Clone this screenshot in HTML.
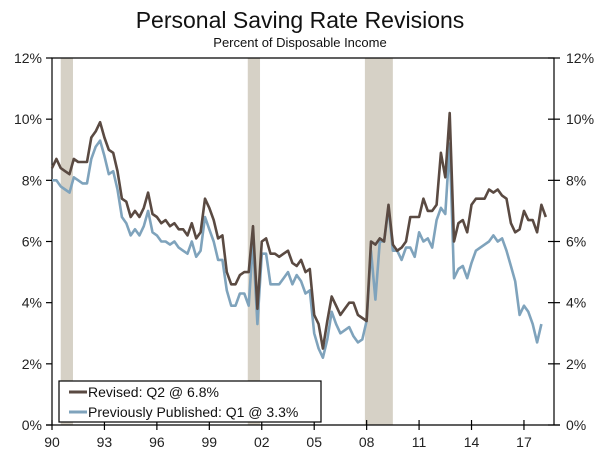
<!DOCTYPE html>
<html><head><meta charset="utf-8"><style>
body{margin:0;background:#fff;}
svg{display:block;font-family:"Liberation Sans",sans-serif;}
</style></head><body>
<svg id="chart" width="600" height="451">
<text x="300" y="28" text-anchor="middle" font-size="23" fill="#111">Personal Saving Rate Revisions</text>
<text x="300" y="47" text-anchor="middle" font-size="13" fill="#111">Percent of Disposable Income</text>
<g id="rec"></g><g id="axes"></g><g id="lines"></g>
<g>
<rect x="59" y="381" width="262" height="41" fill="#fff" stroke="#000" stroke-width="1.2"/>
<line x1="69" y1="392" x2="87" y2="392" stroke="#5a4a42" stroke-width="3"/>
<text x="88" y="397" font-size="14" fill="#111">Revised: Q2 @ 6.8%</text>
<line x1="69" y1="412" x2="87" y2="412" stroke="#7fa3bc" stroke-width="3"/>
<text x="88" y="417" font-size="14" fill="#111">Previously Published: Q1 @ 3.3%</text>
</g>
</svg>
<script>
const yTicks=[0,2,4,6,8,10,12];
const xTickYears=[1990,1993,1996,1999,2002,2005,2008,2011,2014,2017];
const xTickLabels=["90","93","96","99","02","05","08","11","14","17"];
const recessions=[[1990.5,1991.2],[2001.2,2001.9],[2007.9,2009.5]];
const startYear=1990;
const revised=[8.4,8.7,8.4,8.3, 8.2,8.7,8.6,8.6, 8.6,9.4,9.6,9.9, 9.4,9.0,8.9,8.3, 7.4,7.3,6.8,7.0, 6.8,7.1,7.6,6.9, 6.8,6.6,6.7,6.5, 6.6,6.4,6.4,6.2, 6.6,6.1,6.3,7.4, 7.1,6.7,6.1,6.2, 5.0,4.6,4.6,4.9, 5.0,5.0,6.5,3.8, 6.0,6.1,5.6,5.6, 5.5,5.6,5.7,5.3, 5.2,5.4,5.0,5.1, 3.6,3.3,2.5,3.4, 4.2,3.9,3.6,3.8, 4.0,4.0,3.6,3.5, 3.4,6.0,5.9,6.1, 6.0,7.2,5.9,5.7, 5.8,6.0,6.8,6.8, 6.8,7.4,7.0,7.0, 7.2,8.9,8.1,10.2, 6.0,6.6,6.7,6.3, 7.2,7.4,7.4,7.4, 7.7,7.6,7.7,7.5, 7.4,6.6,6.3,6.4, 7.0,6.7,6.7,6.3, 7.2,6.8];
const published=[8.0,8.0,7.8,7.7, 7.6,8.1,8.0,7.9, 7.9,8.7,9.1,9.3, 8.8,8.2,8.3,7.7, 6.8,6.6,6.2,6.4, 6.2,6.5,7.0,6.3, 6.2,6.0,6.0,5.9, 6.0,5.8,5.7,5.6, 6.0,5.5,5.7,6.8, 6.4,6.0,5.4,5.4, 4.4,3.9,3.9,4.3, 4.3,3.9,6.0,3.3, 5.6,5.6,4.6,4.6, 4.6,4.8,5.0,4.6, 4.9,4.7,4.3,4.4, 3.0,2.5,2.2,2.8, 3.7,3.3,3.0,3.1, 3.2,2.9,2.7,2.8, 3.4,5.7,4.1,6.0, 6.0,7.1,5.7,5.7, 5.4,5.8,5.8,5.5, 6.3,6.0,6.1,5.8, 6.7,7.1,6.9,9.2, 4.8,5.1,5.2,4.8, 5.3,5.7,5.8,5.9, 6.0,6.2,6.0,6.1, 5.7,5.2,4.7,3.6, 3.9,3.7,3.3,2.7, 3.3];
const L=52,R=554,T=58,B=425;
function xs(yr){return L+(yr-1990)*17.48;}
function ys(v){return B-(v/12)*(B-T);}
const NS="http://www.w3.org/2000/svg";
function mk(tag,parent,attrs){const e=document.createElementNS(NS,tag);for(const k in attrs)e.setAttribute(k,attrs[k]);parent.appendChild(e);return e;}
const rec=document.getElementById('rec'),ax=document.getElementById('axes'),ln=document.getElementById('lines');
recessions.forEach(r=>{const e=mk('rect',rec,{x:xs(r[0]),y:T,width:xs(r[1])-xs(r[0]),height:B-T,fill:'#d6d1c6'});

});
const fr=mk('path',ax,{d:`M${L},${B}V${T}H${R}V${B}M${L-6},${B}H${R+6}`,stroke:'#000','stroke-width':1.2,fill:'none'});


yTicks.forEach(v=>{const y=ys(v);
mk('line',ax,{x1:L-6,x2:L,y1:y,y2:y,stroke:'#000','stroke-width':1.2});
mk('line',ax,{x1:R-6,x2:R+6,y1:y,y2:y,stroke:'#000','stroke-width':1.2});
const t1=mk('text',ax,{x:L-10,y:y+5,'text-anchor':'end','font-size':14,fill:'#222'});t1.textContent=v+'%';


const t2=mk('text',ax,{x:R+12,y:y+5,'font-size':14,fill:'#222'});t2.textContent=v+'%';

});
xTickYears.forEach((yr,i)=>{const x=xs(yr);
mk('line',ax,{x1:x,x2:x,y1:B-5,y2:B+5,stroke:'#000','stroke-width':1.2});
const t=mk('text',ax,{x:x,y:B+22,'text-anchor':'middle','font-size':14,fill:'#222'});t.textContent=xTickLabels[i];

});
function series(arr,color,name){const d=arr.map((v,i)=>(i?'L':'M')+xs(startYear+i*0.25).toFixed(1)+','+ys(v).toFixed(1)).join('');
const p=mk('path',ln,{d:d,stroke:color,'stroke-width':2.6,fill:'none','stroke-linejoin':'round'});

}
series(published,'#7fa3bc','published-line');
series(revised,'#5a4a42','revised-line');
</script>
</body></html>
